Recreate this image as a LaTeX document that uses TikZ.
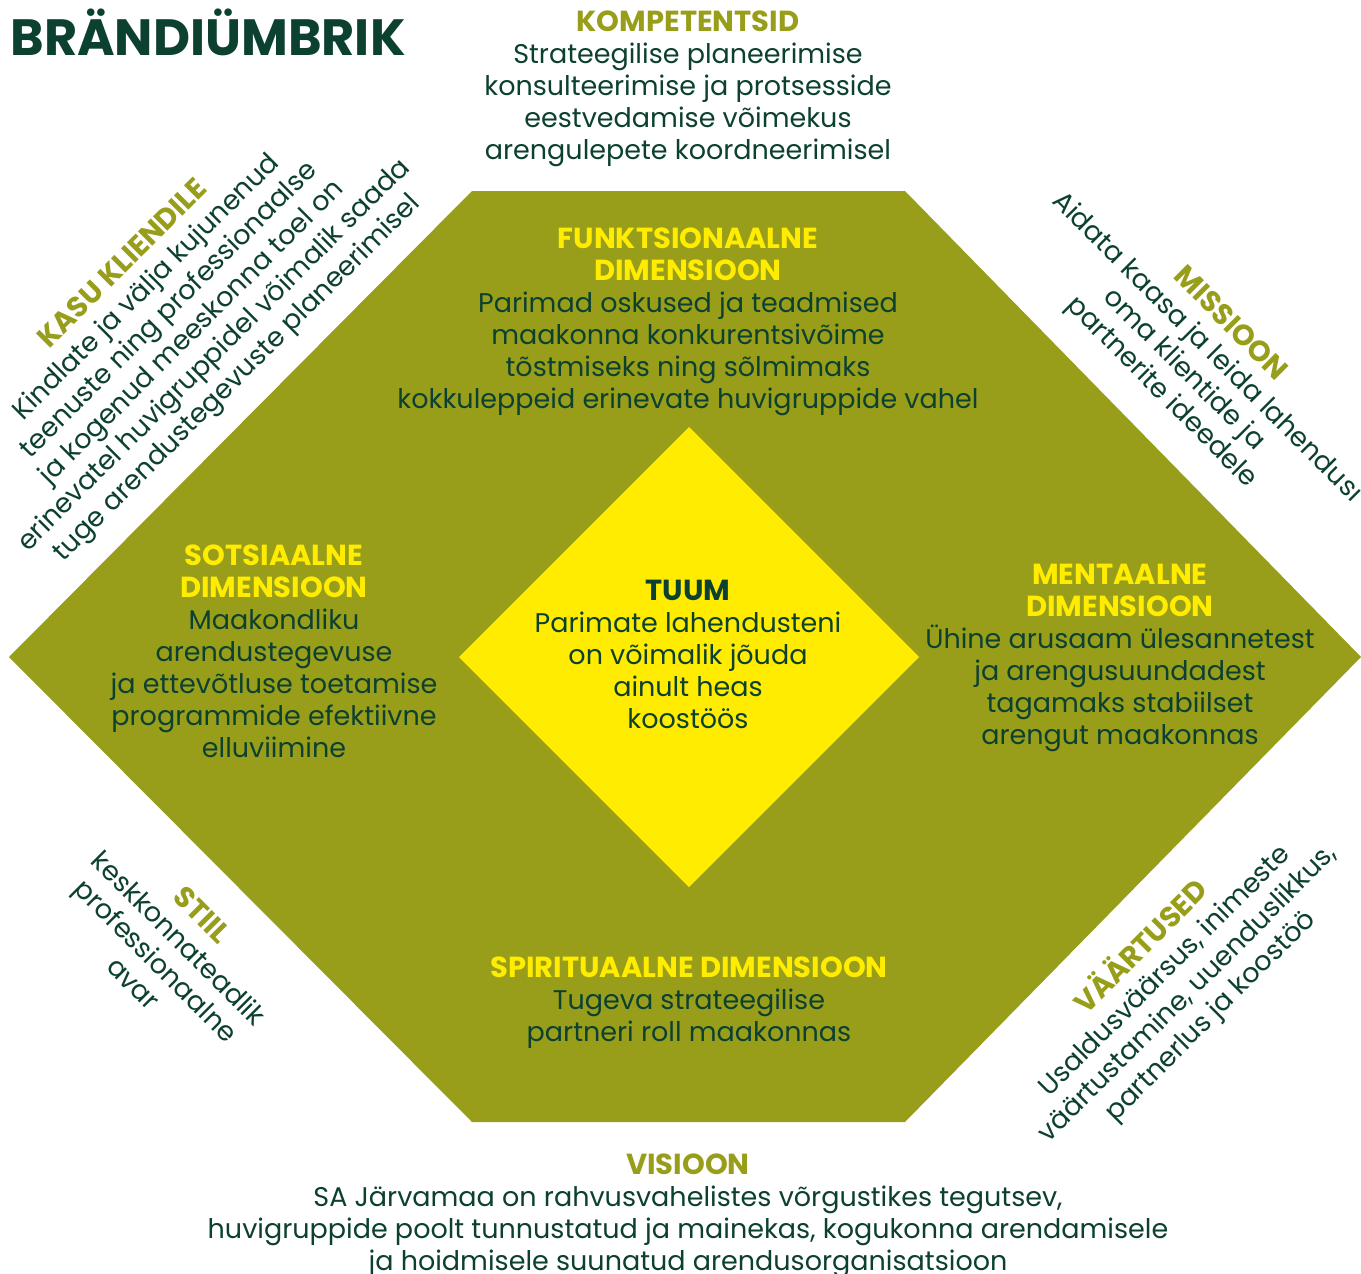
\documentclass[tikz,border=0pt]{standalone}
\usepackage{fontspec}
\setmainfont{Poppins}
\usetikzlibrary{positioning}
\definecolor{hexolive}{HTML}{989E1A}
\definecolor{coreyellow}{HTML}{FFEC00}
\definecolor{darkgreen}{HTML}{0C4030}
\newcommand{\bodysize}{\fontsize{13.5}{16}\selectfont}
\newcommand{\hdr}[2]{\textcolor{#1}{\fontsize{14.5}{16}\selectfont\bfseries #2}}
\tikzset{
    hexa/.style={
    fill=hexolive
    },
    core/.style={
    fill=coreyellow
    },
    txt/.style={
    align=center,text=darkgreen,font=\bodysize,inner sep=0pt
    },
    slanttxt/.style={
    txt,rotate=#1
    },
}

\begin{document}
\begin{tikzpicture}[x=0.5pt,y=-0.5pt]
   \useasboundingbox (0,0) rectangle (1361,1274);

   %shapes
   \fill[hexa] (472,191) -- (905,191) -- (1361,657) -- (905,1122) -- (472,1122) -- (9,657) -- cycle;
   \fill[core] (689,427) -- (919,657) -- (689,887) -- (459,657) -- cycle;

   %title
   \node[anchor=base west,inner sep=0pt,text=darkgreen,font=\fontsize{25.5}{28}\selectfont\bfseries] (title) at (10,55) {BRÄNDIÜMBRIK};

   %top and bottom
   \node[txt] (kompetentsid) at (688,89) {\hdr{hexolive}{KOMPETENTSID}\\Strateegilise planeerimise\\konsulteerimise ja protsesside\\eestvedamise võimekus\\arengulepete koordneerimisel};
   \node[txt] (visioon) at (688,1216) {\hdr{hexolive}{VISIOON}\\SA Järvamaa on rahvusvahelistes võrgustikes tegutsev,\\huvigruppide poolt tunnustatud ja mainekas, kogukonna arendamisele\\ja hoidmisele suunatud arendusorganisatsioon};

   %dimensions
   \node[txt] (funkts) at (688,322) {\hdr{coreyellow}{FUNKTSIONAALNE}\\\hdr{coreyellow}{DIMENSIOON}\\Parimad oskused ja teadmised\\maakonna konkurentsivõime\\tõstmiseks ning sõlmimaks\\kokkuleppeid erinevate huvigruppide vahel};
   \node[txt] (sots) at (274,651) {\hdr{coreyellow}{SOTSIAALNE}\\\hdr{coreyellow}{DIMENSIOON}\\Maakondliku\\arendustegevuse\\ja ettevõtluse toetamise\\programmide efektiivne\\elluviimine};
   \node[txt] (ment) at (1120,658) {\hdr{coreyellow}{MENTAALNE}\\\hdr{coreyellow}{DIMENSIOON}\\Ühine arusaam ülesannetest\\ja arengusuundadest\\tagamaks stabiilset\\arengut maakonnas};
   \node[txt] (spirit) at (689,1003) {\hdr{coreyellow}{SPIRITUAALNE DIMENSIOON}\\Tugeva strateegilise\\partneri roll maakonnas};
   \node[txt] (tuum) at (688,654) {\hdr{darkgreen}{TUUM}\\Parimate lahendusteni\\on võimalik jõuda\\ainult heas\\koostöös};

   %slanted corners
   \node[slanttxt=45] (kasu) at (181,322) {\hdr{hexolive}{KASU KLIENDILE}\\Kindlate ja välja kujunenud\\teenuste ning professionaalse\\ja kogenud meeskonna toel on\\erinevatel huvigruppidel võimalik saada\\tuge arendustegevuste planeerimisel};
   \node[slanttxt=-45] (missioon) at (1195,359) {\hdr{hexolive}{MISSIOON}\\Aidata kaasa ja leida lahendusi\\oma klientide ja\\partnerite ideedele};
   \node[slanttxt=-45] (stiil) at (168,949) {\hdr{hexolive}{STIIL}\\keskkonnateadlik\\professionaalne\\avar};
   \node[slanttxt=45] (vaartused) at (1175,981) {\hdr{hexolive}{VÄÄRTUSED}\\Usaldusväärsus, inimeste\\väärtustamine, uuenduslikkus,\\partnerlus ja koostöö};
\end{tikzpicture}
\end{document}
